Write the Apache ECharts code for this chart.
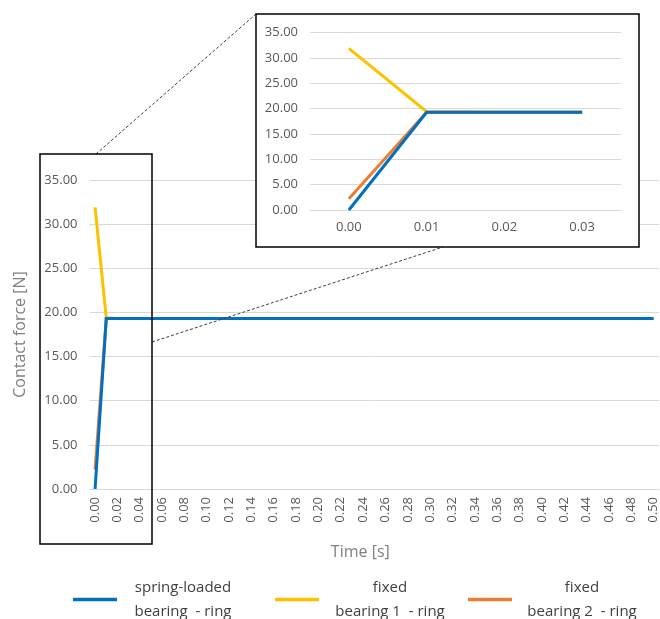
<!DOCTYPE html>
<html><head><meta charset="utf-8">
<script src="https://cdn.jsdelivr.net/npm/echarts@6/dist/echarts.min.js"></script>
<style>html,body{margin:0;padding:0;background:#fff}#c{width:660px;height:619px}</style>
</head><body><div id="c"></div><script>
// Time categories (s)
const timeLabels = [
  '0.00','0.01','0.02','0.03','0.04','0.05','0.06','0.07','0.08','0.09',
  '0.10','0.11','0.12','0.13','0.14','0.15','0.16','0.17','0.18','0.19',
  '0.20','0.21','0.22','0.23','0.24','0.25','0.26','0.27','0.28','0.29',
  '0.30','0.31','0.32','0.33','0.34','0.35','0.36','0.37','0.38','0.39',
  '0.40','0.41','0.42','0.43','0.44','0.45','0.46','0.47','0.48','0.49','0.50'
];
// Contact force [N]
const springLoaded = [
  0.0, 19.3, 19.3, 19.3, 19.3, 19.3, 19.3, 19.3, 19.3, 19.3,
  19.3, 19.3, 19.3, 19.3, 19.3, 19.3, 19.3, 19.3, 19.3, 19.3,
  19.3, 19.3, 19.3, 19.3, 19.3, 19.3, 19.3, 19.3, 19.3, 19.3,
  19.3, 19.3, 19.3, 19.3, 19.3, 19.3, 19.3, 19.3, 19.3, 19.3,
  19.3, 19.3, 19.3, 19.3, 19.3, 19.3, 19.3, 19.3, 19.3, 19.3, 19.3
];
const fixed1 = [
  31.9, 19.4, 19.3, 19.3, 19.3, 19.3, 19.3, 19.3, 19.3, 19.3,
  19.3, 19.3, 19.3, 19.3, 19.3, 19.3, 19.3, 19.3, 19.3, 19.3,
  19.3, 19.3, 19.3, 19.3, 19.3, 19.3, 19.3, 19.3, 19.3, 19.3,
  19.3, 19.3, 19.3, 19.3, 19.3, 19.3, 19.3, 19.3, 19.3, 19.3,
  19.3, 19.3, 19.3, 19.3, 19.3, 19.3, 19.3, 19.3, 19.3, 19.3, 19.3
];
const fixed2 = [
  2.2, 19.3, 19.3, 19.3, 19.3, 19.3, 19.3, 19.3, 19.3, 19.3,
  19.3, 19.3, 19.3, 19.3, 19.3, 19.3, 19.3, 19.3, 19.3, 19.3,
  19.3, 19.3, 19.3, 19.3, 19.3, 19.3, 19.3, 19.3, 19.3, 19.3,
  19.3, 19.3, 19.3, 19.3, 19.3, 19.3, 19.3, 19.3, 19.3, 19.3,
  19.3, 19.3, 19.3, 19.3, 19.3, 19.3, 19.3, 19.3, 19.3, 19.3, 19.3
];
const insetCount = 4; // inset shows 0.00 .. 0.03
const seriesNames = ['spring-loaded\nbearing  - ring', 'fixed\nbearing 1  - ring', 'fixed\nbearing 2  - ring'];
const seriesColors = ['#0070C0', '#FFC000', '#ED7D31'];

const FONT = 'Open Sans';
const LABEL = '#595959';
const GRID = '#d9d9d9';

const insetLabels = timeLabels.slice(0, insetCount);
const seriesData = [springLoaded, fixed1, fixed2];

function mkSeries(idx, gi, data) {
  return {
    name: seriesNames[idx], type: 'line', xAxisIndex: gi, yAxisIndex: gi,
    data: data, showSymbol: false, symbol: 'none',
    color: seriesColors[idx],
    lineStyle: { width: 3, color: seriesColors[idx], cap: 'butt', join: 'miter' },
    z: (gi === 0 ? 2 : 70) + (idx === 0 ? 3 : (idx === 2 ? 1 : 0)),
    animation: false
  };
}
const series = [];
[1, 2, 0].forEach(i => series.push(mkSeries(i, 0, seriesData[i])));
[1, 2, 0].forEach(i => series.push(mkSeries(i, 1, seriesData[i].slice(0, insetCount))));

function legendFor(idx, left, w) {
  return {
    data: [seriesNames[idx]], left: left, top: 575, orient: 'horizontal',
    icon: 'rect', itemWidth: 44, itemHeight: 3.5, selectedMode: false,
    formatter: name => name.split('\n').map(s => '{a|' + s + '}').join('\n'),
    textStyle: { rich: { a: { width: w, align: 'center', fontSize: 15, lineHeight: 24, color: '#404040', fontFamily: FONT } } }
  };
}

const chart = echarts.init(document.getElementById('c'), null, { renderer: 'canvas' });
chart.setOption({
  animation: false,
  backgroundColor: '#fff',
  textStyle: { fontFamily: FONT },
  grid: [
    { left: 89.5, top: 180, width: 571, height: 309 },
    { left: 310, top: 32.7, width: 311, height: 177.3 }
  ],
  xAxis: [
    { type: 'category', gridIndex: 0, data: timeLabels, boundaryGap: true,
      axisTick: { show: false }, axisLine: { lineStyle: { color: GRID } },
      axisLabel: { interval: 1, rotate: 90, color: LABEL, fontSize: 13, margin: 8, fontFamily: FONT },
      name: 'Time [s]', nameLocation: 'middle', nameGap: 55,
      nameTextStyle: { color: '#7f7f7f', fontSize: 16, fontFamily: FONT, padding: [0, 28, 0, 0] } },
    { type: 'category', gridIndex: 1, data: insetLabels, boundaryGap: true, z: 60,
      axisTick: { show: false }, axisLine: { lineStyle: { color: GRID } },
      axisLabel: { color: LABEL, fontSize: 13, margin: 11, fontFamily: FONT } }
  ],
  yAxis: [
    { type: 'value', gridIndex: 0, min: 0, max: 35, interval: 5,
      axisLine: { show: false }, axisTick: { show: false },
      splitLine: { lineStyle: { color: GRID, width: 1 } },
      axisLabel: { formatter: v => v.toFixed(2), color: LABEL, fontSize: 13, margin: 12, fontFamily: FONT },
      name: 'Contact force [N]', nameLocation: 'middle', nameGap: 61, nameRotate: 90,
      nameTextStyle: { color: '#7f7f7f', fontSize: 16, fontFamily: FONT } },
    { type: 'value', gridIndex: 1, min: 0, max: 35, interval: 5, z: 60,
      axisLine: { show: false }, axisTick: { show: false },
      splitLine: { lineStyle: { color: GRID, width: 1 } },
      axisLabel: { formatter: v => v.toFixed(2), color: LABEL, fontSize: 13, margin: 12, fontFamily: FONT } }
  ],
  legend: [
    legendFor(0, 68, 122),
    legendFor(1, 270, 132),
    legendFor(2, 463, 130)
  ],
  graphic: [
    { type: 'line', z: 40, shape: { x1: 96, y1: 154, x2: 256, y2: 14 },
      style: { stroke: '#404040', lineWidth: 1, lineDash: [3, 2] } },
    { type: 'line', z: 40, shape: { x1: 152, y1: 342, x2: 443, y2: 247 },
      style: { stroke: '#404040', lineWidth: 1, lineDash: [3, 2] } },
    { type: 'rect', z: 50, shape: { x: 256, y: 14, width: 383, height: 233 },
      style: { fill: '#fff', stroke: '#000', lineWidth: 1.5 } },
    { type: 'rect', z: 100, shape: { x: 40, y: 154, width: 112, height: 390 },
      style: { fill: 'none', stroke: '#000', lineWidth: 1.5 } }
  ],
  series: series
});
</script></body></html>
